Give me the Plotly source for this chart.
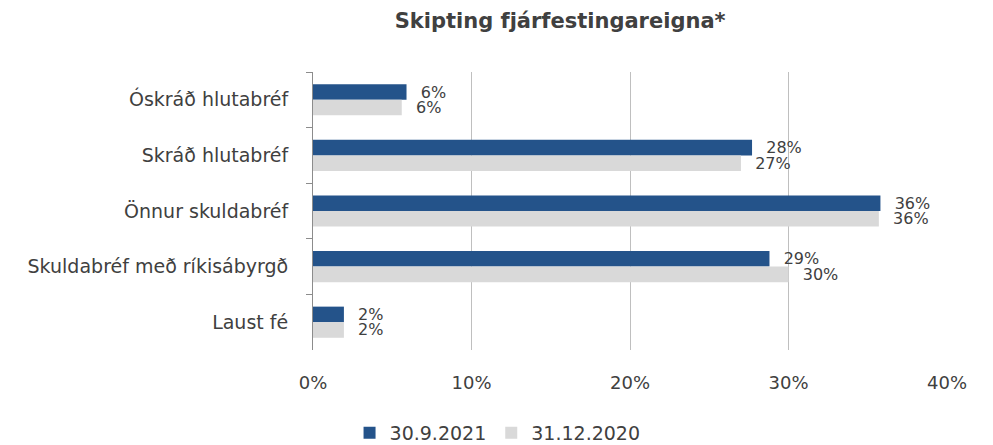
import plotly.graph_objects as go

categories = ["Óskráð hlutabréf", "Skráð hlutabréf", "Önnur skuldabréf",
              "Skuldabréf með ríkisábyrgð", "Laust fé"]
vals_2021 = [5.9, 27.7, 35.8, 28.8, 1.95]
vals_2020 = [5.6, 27.0, 35.7, 30.0, 1.95]
x_ticks = [0, 10, 20, 30, 40]
x_labels = ["0%", "10%", "20%", "30%", "40%"]

FONT = "DejaVu Sans, sans-serif"
TXT = "#404040"


def bar(vals, name, color):
    return go.Bar(
        y=categories, x=vals, orientation="h", name=name,
        marker=dict(color=color, line=dict(width=0)),
        texttemplate="\u2002\u2009%{x:.0f}%", textposition="outside",
        constraintext="none", cliponaxis=False,
        textfont=dict(family=FONT, size=16, color=TXT),
    )


fig = go.Figure()
fig.add_trace(bar(vals_2021, "30.9.2021", "#24538a"))
fig.add_trace(bar(vals_2020, "31.12.2020", "#d9d9d9"))

fig.update_layout(
    width=993, height=445,
    barmode="group", bargap=0.44, bargroupgap=0,
    plot_bgcolor="white", paper_bgcolor="white",
    font=dict(family=FONT, size=18, color=TXT),
    margin=dict(l=305, r=54, t=64, b=103),
    title=dict(text="<b>Skipting fjárfestingareigna*</b>", x=0.556, xanchor="center",
               y=0.972, yanchor="middle", font=dict(family=FONT, size=21, color=TXT)),
    xaxis=dict(range=[0, 40], tickvals=x_ticks, ticktext=x_labels,
               showgrid=True, gridcolor="#bfbfbf", gridwidth=1,
               zeroline=False, showline=False, ticks="", ticklabelstandoff=20,
               tickfont=dict(family=FONT, size=18, color=TXT)),
    yaxis=dict(autorange="reversed", showline=True, linecolor="#8c8c8c", linewidth=1,
               ticks="outside", ticklen=6, tickcolor="#8c8c8c", tickson="boundaries",
               ticklabelstandoff=20, showgrid=False,
               tickfont=dict(family=FONT, size=19, color=TXT)),
    legend=dict(orientation="h", x=0.493, xref="container", xanchor="center",
                y=0.045, yref="container", yanchor="middle",
                font=dict(family=FONT, size=19, color=TXT), traceorder="normal",
                itemwidth=30),
    showlegend=True,
)

fig.write_html("out.html")
